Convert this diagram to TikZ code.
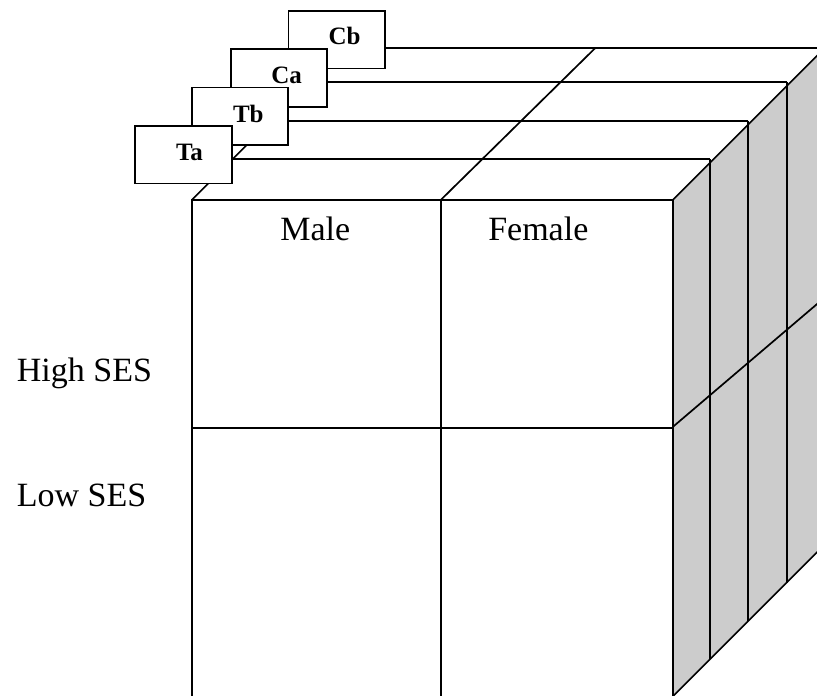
\documentclass[tikz,border=0pt]{standalone}
\usepackage{fontspec}
\setmainfont{Liberation Serif}
\begin{document}
\begin{tikzpicture}[x=1pt,y=-1pt,line join=miter,
  edge/.style={draw=black,line width=1.7pt},
  tagbox/.style={draw=black,line width=1.7pt,fill=white},
  bigtxt/.style={inner sep=0pt,font=\fontsize{34}{40}\selectfont},
  tagtxt/.style={inner sep=0pt,font=\fontsize{25}{30}\selectfont\bfseries}]
\useasboundingbox (0,0) rectangle (817,696);
\clip (0,0) rectangle (817,696);
% shaded right side
\fill[gray!40] (672.7,200) -- (830,42.7) -- (830,539.2) -- (672.7,696.5) -- cycle;
% side lines
\draw[edge] (672.7,200) -- (830,42.7);
\draw[edge] (672.7,696.5) -- (830,539.2);
\draw[edge] (672.7,427) -- (830,293);
\draw[edge] (710,159) -- (710,659.2);
\draw[edge] (748.3,120.7) -- (748.3,620.9);
\draw[edge] (786.7,82.3) -- (786.7,582.5);
% layer top lines
\draw[edge] (225,159) -- (710,159);
\draw[edge] (280,120.7) -- (748.3,120.7);
\draw[edge] (320,82.3) -- (786.7,82.3);
\draw[edge] (380,48.3) -- (830,48.3);
% top diagonals
\draw[edge] (440.7,200) -- (595,48.3);
\draw[edge] (191.7,200) -- (250,141.7);
% front face
\draw[edge,fill=white] (191.7,200) rectangle (672.7,696.8);
\draw[edge] (440.7,200) -- (440.7,696.8);
\draw[edge] (191.7,428) -- (672.7,428);
% tag boxes (back to front)
\node[tagbox,minimum width=96.5pt,minimum height=57.7pt,anchor=north west] (boxCb) at (287.5,10) {};
\node[tagtxt,anchor=base] (Cb) at (344.5,45) {Cb};
\node[tagbox,minimum width=96pt,minimum height=57.7pt,anchor=north west] (boxCa) at (230,48.3) {};
\node[tagtxt,anchor=base] (Ca) at (286.7,83.5) {Ca};
\node[tagbox,minimum width=96.3pt,minimum height=57.6pt,anchor=north west] (boxTb) at (191,86.7) {};
\node[tagtxt,anchor=base] (Tb) at (248.3,122.3) {Tb};
\node[tagbox,minimum width=97pt,minimum height=57.7pt,anchor=north west] (boxTa) at (134,125) {};
\node[tagtxt,anchor=base] (Ta) at (189.5,160.7) {Ta};
% labels
\node[bigtxt,anchor=base] (male) at (315.3,240) {Male};
\node[bigtxt,anchor=base] (female) at (538.3,240) {Female};
\node[bigtxt,anchor=base west] (high) at (16.7,381.7) {High SES};
\node[bigtxt,anchor=base west] (low) at (16.7,506.7) {Low SES};
\end{tikzpicture}
\end{document}
